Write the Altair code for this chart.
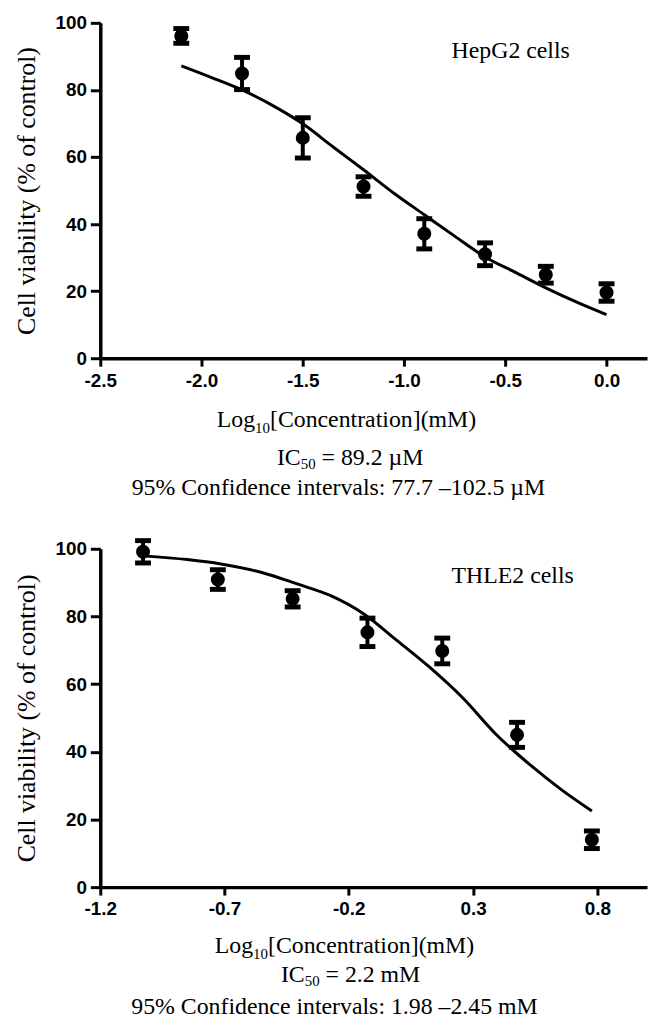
import altair as alt
import pandas as pd

SERIF = "Liberation Serif"
SANS = "Liberation Sans"

# ---------------- data: HepG2 (top) ----------------
top_x = [-2.1, -1.8, -1.5, -1.2, -0.9, -0.6, -0.3, 0.0]
top_y = [96.1, 84.9, 65.7, 51.2, 37.1, 31.0, 24.9, 19.6]
top_err = [2.2, 4.8, 6.0, 2.9, 4.5, 3.4, 2.5, 2.6]
top_curve_x = [-2.1, -1.95, -1.8, -1.65, -1.5, -1.35, -1.2, -1.05, -0.9, -0.75, -0.6, -0.45, -0.3, -0.15, 0.0]
top_curve_y = [87.2, 83.7, 80.0, 75.4, 69.9, 63.0, 56.2, 49.2, 42.8, 36.4, 30.2, 25.6, 21.0, 16.8, 13.0]
top_xticks = [-2.5, -2.0, -1.5, -1.0, -0.5, 0.0]
top_xdomain = [-2.5, 0.2]

# ---------------- data: THLE2 (bottom) ----------------
bot_x = [-1.028, -0.727, -0.426, -0.125, 0.176, 0.477, 0.778]
bot_y = [99.1, 90.9, 85.2, 75.3, 69.8, 45.0, 14.0]
bot_err = [3.3, 2.9, 2.4, 4.2, 3.8, 3.7, 2.6]
bot_curve_x = [-1.028, -0.85, -0.715, -0.55, -0.408, -0.275, -0.141, -0.008, 0.125, 0.259, 0.392, 0.525, 0.659, 0.778]
bot_curve_y = [97.9, 96.8, 95.5, 93.0, 89.6, 86.2, 80.8, 73.0, 65.0, 55.9, 45.2, 36.4, 28.6, 22.5]
bot_xticks = [-1.2, -0.7, -0.2, 0.3, 0.8]
bot_xdomain = [-1.2, 1.0]

y_ticks = [0, 20, 40, 60, 80, 100]
y_title = "Cell viability (% of control)"


def txt(text, x, y, size, align="left"):
    return alt.Chart(alt.Data(values=[{}])).mark_text(
        text=text, font=SERIF, fontSize=size, align=align,
        baseline="alphabetic", color="black"
    ).encode(x=alt.value(x), y=alt.value(y))


def panel(px, py, perr, cx, cy, xdom, xticks, height, cell_label, captions):
    pts = pd.DataFrame({
        "x": px, "y": py,
        "lo": [a - b for a, b in zip(py, perr)],
        "hi": [a + b for a, b in zip(py, perr)],
    })
    curve = pd.DataFrame({"x": cx, "y": cy})
    xs = alt.Scale(domain=xdom, nice=False, zero=False)
    ys = alt.Scale(domain=[0, 100], nice=False)
    xaxis = alt.Axis(
        title=None, values=xticks, tickSize=8, labelPadding=5, labelFlush=False,
        labelExpr="replace(format(datum.value, '.1f'), '\u2212', '-')",
    )
    yaxis = alt.Axis(
        title=y_title, values=y_ticks, tickSize=10, labelPadding=4,
        titleFont=SERIF, titleFontSize=26, titleFontWeight="normal",
        titleColor="black", titlePadding=16,
    )

    def X(f):
        return alt.X(f, scale=xs, axis=xaxis)

    def Y(f):
        return alt.Y(f, scale=ys, axis=yaxis)

    line = alt.Chart(curve).mark_line(
        color="black", strokeWidth=3, interpolate="monotone"
    ).encode(x=X("x:Q"), y=Y("y:Q"))
    bars = alt.Chart(pts).mark_rule(color="black", strokeWidth=4).encode(
        x=X("x:Q"), y=Y("lo:Q"), y2="hi:Q")
    cap_lo = alt.Chart(pts).mark_tick(
        color="black", thickness=5, size=16, orient="horizontal", opacity=1
    ).encode(x=X("x:Q"), y=Y("lo:Q"))
    cap_hi = alt.Chart(pts).mark_tick(
        color="black", thickness=5, size=16, orient="horizontal", opacity=1
    ).encode(x=X("x:Q"), y=Y("hi:Q"))
    dots = alt.Chart(pts).mark_point(
        filled=True, shape="circle", size=200, color="black", opacity=1
    ).encode(x=X("x:Q"), y=Y("y:Q"))

    layers = [line, bars, cap_lo, cap_hi, dots, txt(cell_label, 354, 35, 24)]
    layers += [txt(*c) for c in captions]
    return alt.layer(*layers).properties(width=551, height=height)


# caption pieces: (text, x, y, size, align)
top_caps = [
    ("Log", 156, 407, 24, "right"),
    ("10", 156, 413, 15, "left"),
    ("[Concentration](mM)", 171, 407, 24, "left"),
    ("IC", 202, 446, 24, "right"),
    ("50", 202, 450, 15, "left"),
    ("= 89.2 \u00b5M", 223, 446, 24, "left"),
    ("95% Confidence intervals: 77.7 \u2013102.5 \u00b5M", 240, 476, 24, "center"),
]
bot_caps = [
    ("Log", 154, 407, 24, "right"),
    ("10", 154, 413, 15, "left"),
    ("[Concentration](mM)", 169, 407, 24, "left"),
    ("IC", 206, 437, 24, "right"),
    ("50", 206, 441, 15, "left"),
    ("= 2.2 mM", 227, 437, 24, "left"),
    ("95% Confidence intervals: 1.98 \u20132.45 mM", 236, 469, 24, "center"),
]

top = panel(top_x, top_y, top_err, top_curve_x, top_curve_y, top_xdomain,
            top_xticks, 338, "HepG2 cells", top_caps)
bot = panel(bot_x, bot_y, bot_err, bot_curve_x, bot_curve_y, bot_xdomain,
            bot_xticks, 341, "THLE2 cells", bot_caps)

chart = alt.vconcat(top, bot, spacing=192, bounds="flush").properties(
    padding={"left": 5, "top": 2, "right": 5, "bottom": 5}
).configure_view(stroke=None).configure_axis(
    domainColor="black", domainWidth=3.5, tickColor="black", tickWidth=3,
    grid=False, labelFont=SANS, labelFontWeight="bold", labelFontSize=19,
    labelColor="black",
)

chart.save("out.html", embed_options={"renderer": "svg", "actions": False})
